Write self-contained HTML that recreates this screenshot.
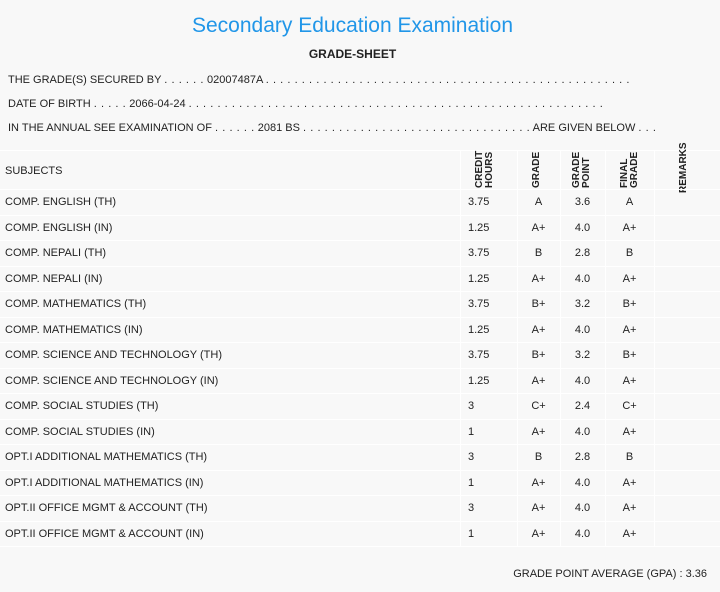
<!DOCTYPE html>
<html><head><style>
body{margin:0;width:720px;height:592px;background:#f8f8f8;font-family:"Liberation Sans","DejaVu Sans",sans-serif;color:#222;position:relative;overflow:hidden}
.a{position:absolute;white-space:nowrap}
.t{font-size:11px}
.c{text-align:center}
.d{letter-spacing:0.55px}
.hl{position:absolute;left:0;width:720px;height:1px;background:#fff}
.vl{position:absolute;width:1px;background:#fff;top:150px;height:397px}
.vh{position:absolute;font-size:10px;font-weight:bold;transform:rotate(-90deg);transform-origin:left top;line-height:10px;text-align:left}
</style></head><body>
<div class="a c" style="left:0;width:705px;top:14px;font-size:21px;color:#2196e8">Secondary Education Examination</div>
<div class="a c" style="left:0;width:705px;top:47px;font-size:12px;font-weight:bold">GRADE-SHEET</div>
<div class="a t" style="left:8px;top:74px">THE GRADE(S) SECURED BY <span class="d">. . . . . .</span> 02007487A <span class="d">. . . . . . . . . . . . . . . . . . . . . . . . . . . . . . . . . . . . . . . . . . . . . . . . . . .</span></div>
<div class="a t" style="left:8px;top:98px">DATE OF BIRTH <span class="d">. . . . .</span> 2066-04-24 <span class="d">. . . . . . . . . . . . . . . . . . . . . . . . . . . . . . . . . . . . . . . . . . . . . . . . . . . . . . . . . .</span></div>
<div class="a t" style="left:8px;top:122px">IN THE ANNUAL SEE EXAMINATION OF <span class="d">. . . . . .</span> 2081 BS <span class="d">. . . . . . . . . . . . . . . . . . . . . . . . . . . . . . . .</span> ARE GIVEN BELOW <span class="d">. . .</span></div>
<div class="hl" style="top:150px"></div>
<div class="vl" style="left:460px"></div><div class="vl" style="left:517px"></div><div class="vl" style="left:560px"></div><div class="vl" style="left:605px"></div><div class="vl" style="left:654px"></div>
<div class="a t" style="left:5px;top:165px">SUBJECTS</div>
<div class="vh" style="left:475px;top:188px;width:40px">CREDIT<br>HOURS</div>
<div class="vh" style="left:532px;top:188px;width:40px">GRADE</div>
<div class="vh" style="left:572px;top:188px;width:40px">GRADE<br>POINT</div>
<div class="vh" style="left:620px;top:188px;width:40px">FINAL<br>GRADE</div>
<div class="vh" style="left:679px;top:193px;width:50px">REMARKS</div>
<div id="rows"></div>
<div class="a t" style="right:13px;top:568px">GRADE POINT AVERAGE (GPA) : 3.36</div>
<script>
var d=[["COMP. ENGLISH (TH)","3.75","A","3.6","A"],["COMP. ENGLISH (IN)","1.25","A+","4.0","A+"],["COMP. NEPALI (TH)","3.75","B","2.8","B"],["COMP. NEPALI (IN)","1.25","A+","4.0","A+"],["COMP. MATHEMATICS (TH)","3.75","B+","3.2","B+"],["COMP. MATHEMATICS (IN)","1.25","A+","4.0","A+"],["COMP. SCIENCE AND TECHNOLOGY (TH)","3.75","B+","3.2","B+"],["COMP. SCIENCE AND TECHNOLOGY (IN)","1.25","A+","4.0","A+"],["COMP. SOCIAL STUDIES (TH)","3","C+","2.4","C+"],["COMP. SOCIAL STUDIES (IN)","1","A+","4.0","A+"],["OPT.I ADDITIONAL MATHEMATICS (TH)","3","B","2.8","B"],["OPT.I ADDITIONAL MATHEMATICS (IN)","1","A+","4.0","A+"],["OPT.II OFFICE MGMT & ACCOUNT (TH)","3","A+","4.0","A+"],["OPT.II OFFICE MGMT & ACCOUNT (IN)","1","A+","4.0","A+"]];
var h="";
for(var i=0;i<d.length;i++){var rt=Math.round(189+i*25.54);var ty=rt+7;
h+='<div class="hl" style="top:'+rt+'px"></div>';
h+='<div class="a t" style="left:5px;top:'+ty+'px">'+d[i][0].replace("&","&amp;")+'</div>';
h+='<div class="a t" style="left:468px;top:'+ty+'px">'+d[i][1]+'</div>';
h+='<div class="a t c" style="left:517px;width:43px;top:'+ty+'px">'+d[i][2]+'</div>';
h+='<div class="a t c" style="left:560px;width:45px;top:'+ty+'px">'+d[i][3]+'</div>';
h+='<div class="a t c" style="left:605px;width:49px;top:'+ty+'px">'+d[i][4]+'</div>';}
h+='<div class="hl" style="top:546px"></div>';
document.getElementById("rows").innerHTML=h;
</script>
</body></html>
